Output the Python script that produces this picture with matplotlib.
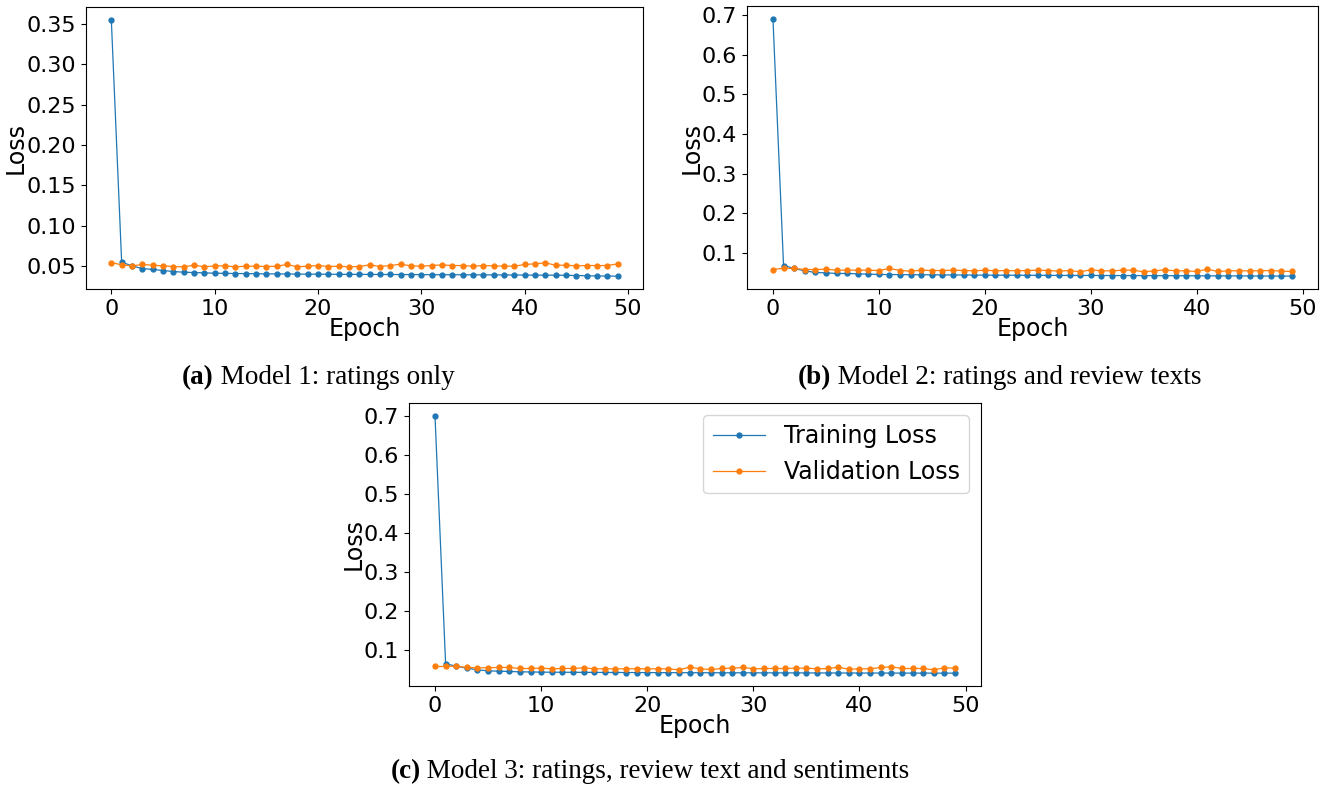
import numpy as np
import matplotlib
matplotlib.use("Agg")
import matplotlib.pyplot as plt

epochs = np.arange(50)

# model 1: ratings only
train_a = [0.355, 0.0546, 0.0500, 0.0467, 0.0455, 0.0442, 0.0430, 0.0421, 0.0417, 0.0413,
           0.0409, 0.0407, 0.0405, 0.0404, 0.0402, 0.0401, 0.0400, 0.0399, 0.0398, 0.0397,
           0.0397, 0.0396, 0.0395, 0.0395, 0.0394, 0.0394, 0.0393, 0.0393, 0.0392, 0.0392,
           0.0391, 0.0391, 0.0390, 0.0390, 0.0389, 0.0389, 0.0388, 0.0388, 0.0387, 0.0387,
           0.0386, 0.0385, 0.0385, 0.0384, 0.0383, 0.0380, 0.0378, 0.0374, 0.0374, 0.0372]
val_a = [0.0541, 0.0512, 0.0500, 0.0517, 0.0508, 0.0500, 0.0492, 0.0488, 0.0508, 0.0488,
         0.0500, 0.0500, 0.0488, 0.0496, 0.0496, 0.0492, 0.0496, 0.0517, 0.0488, 0.0496,
         0.0504, 0.0492, 0.0496, 0.0488, 0.0492, 0.0512, 0.0492, 0.0504, 0.0521, 0.0500,
         0.0496, 0.0504, 0.0512, 0.0504, 0.0504, 0.0496, 0.0504, 0.0500, 0.0496, 0.0496,
         0.0517, 0.0525, 0.0537, 0.0508, 0.0508, 0.0500, 0.0504, 0.0504, 0.0504, 0.0525]

# model 2: ratings and review texts
train_b = [0.690, 0.0680, 0.0605, 0.0546, 0.0504, 0.0495, 0.0479, 0.0479, 0.0470, 0.0462,
           0.0454, 0.0452, 0.0450, 0.0448, 0.0446, 0.0445, 0.0443, 0.0441, 0.0440, 0.0438,
           0.0437, 0.0436, 0.0435, 0.0434, 0.0433, 0.0432, 0.0431, 0.0430, 0.0430, 0.0429,
           0.0429, 0.0428, 0.0427, 0.0426, 0.0426, 0.0425, 0.0424, 0.0423, 0.0422, 0.0421,
           0.0420, 0.0419, 0.0418, 0.0418, 0.0417, 0.0416, 0.0415, 0.0414, 0.0413, 0.0412]
val_b = [0.0579, 0.0613, 0.0605, 0.0579, 0.0579, 0.0588, 0.0562, 0.0562, 0.0562, 0.0562,
         0.0554, 0.0605, 0.0554, 0.0537, 0.0562, 0.0554, 0.0554, 0.0562, 0.0554, 0.0546,
         0.0562, 0.0546, 0.0554, 0.0546, 0.0554, 0.0562, 0.0554, 0.0537, 0.0554, 0.0521,
         0.0571, 0.0546, 0.0546, 0.0562, 0.0562, 0.0521, 0.0546, 0.0571, 0.0546, 0.0546,
         0.0529, 0.0588, 0.0529, 0.0546, 0.0546, 0.0546, 0.0546, 0.0554, 0.0537, 0.0529]

# model 3: ratings, review text and sentiments
train_c = [0.700, 0.0640, 0.0580, 0.0528, 0.0485, 0.0459, 0.0450, 0.0442, 0.0434, 0.0430,
           0.0425, 0.0424, 0.0422, 0.0421, 0.0420, 0.0419, 0.0418, 0.0417, 0.0416, 0.0415,
           0.0414, 0.0413, 0.0412, 0.0412, 0.0411, 0.0410, 0.0410, 0.0409, 0.0409, 0.0408,
           0.0408, 0.0407, 0.0407, 0.0406, 0.0406, 0.0405, 0.0405, 0.0404, 0.0404, 0.0403,
           0.0403, 0.0402, 0.0402, 0.0402, 0.0401, 0.0401, 0.0401, 0.0400, 0.0400, 0.0400]
val_c = [0.0571, 0.0571, 0.0579, 0.0545, 0.0537, 0.0537, 0.0545, 0.0545, 0.0519, 0.0519,
         0.0528, 0.0511, 0.0519, 0.0519, 0.0537, 0.0511, 0.0511, 0.0511, 0.0511, 0.0511,
         0.0511, 0.0511, 0.0511, 0.0485, 0.0553, 0.0511, 0.0494, 0.0519, 0.0528, 0.0545,
         0.0511, 0.0519, 0.0519, 0.0519, 0.0528, 0.0528, 0.0511, 0.0519, 0.0553, 0.0502,
         0.0511, 0.0511, 0.0545, 0.0562, 0.0519, 0.0519, 0.0519, 0.0485, 0.0537, 0.0528]

captions = [("(a)", " Model 1: ratings only"),
            ("(b)", " Model 2: ratings and review texts"),
            ("(c)", " Model 3: ratings, review text and sentiments")]

W, H = 1326, 790
fig = plt.figure(figsize=(W / 100, H / 100), dpi=100)


def px_axes(x0, y0, x1, y1):
    # pixel box (top-left origin) -> figure fraction
    return fig.add_axes([x0 / W, 1 - y1 / H, (x1 - x0) / W, (y1 - y0) / H])


def draw(ax, train, val, legend=False):
    ax.plot(epochs, train, marker="o", ms=3.5, lw=0.9, label="Training Loss")
    ax.plot(epochs, val, marker="o", ms=3.5, lw=0.9, label="Validation Loss")
    ax.set_xlabel("Epoch", fontsize=17, labelpad=-1)
    ax.set_ylabel("Loss", fontsize=17, labelpad=-1)
    ax.tick_params(labelsize=16)
    ax.set_xticks([0, 10, 20, 30, 40, 50])
    if legend:
        ax.legend(fontsize=17, loc="upper right", handlelength=2.2)


ax_a = px_axes(86, 7, 643, 289)
draw(ax_a, train_a, val_a)
ax_a.set_yticks([0.05, 0.10, 0.15, 0.20, 0.25, 0.30, 0.35])

ax_b = px_axes(747, 6, 1318, 289)
draw(ax_b, train_b, val_b)
ax_b.set_yticks([0.1, 0.2, 0.3, 0.4, 0.5, 0.6, 0.7])

ax_c = px_axes(409, 403, 981, 686)
draw(ax_c, train_c, val_c, legend=True)
ax_c.set_yticks([0.1, 0.2, 0.3, 0.4, 0.5, 0.6, 0.7])


def caption(cx, cy, tag, rest):
    t1 = fig.text(0, 0, tag, fontsize=19.5, family="Liberation Serif", fontweight="bold")
    t2 = fig.text(0, 0, rest, fontsize=19.5, family="Liberation Serif")
    r = fig.canvas.get_renderer()
    w1 = t1.get_window_extent(r).width
    w2 = t2.get_window_extent(r).width
    x0 = cx - (w1 + w2) / 2
    t1.set_position((x0 / W, 1 - cy / H))
    t2.set_position(((x0 + w1) / W, 1 - cy / H))
    t1.set_va("center")
    t2.set_va("center")


caption(318, 378, *captions[0])
caption(1000, 378, *captions[1])
caption(650, 772, *captions[2])

fig.savefig("out.png", dpi=100)
